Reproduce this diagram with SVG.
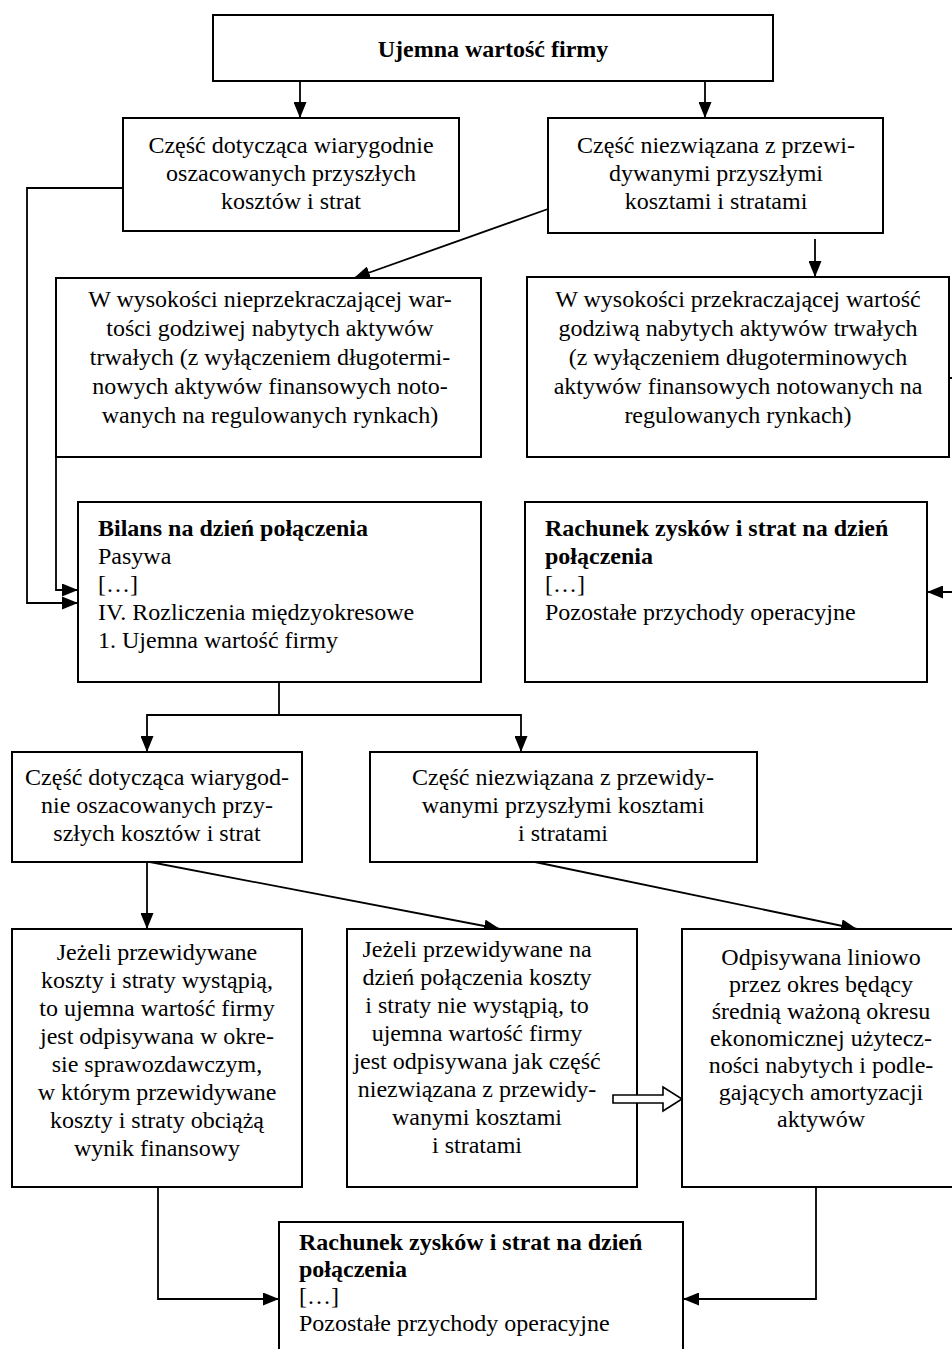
<svg xmlns="http://www.w3.org/2000/svg" width="952" height="1349" viewBox="0 0 952 1349">
<style>
.box{fill:#fff;stroke:#000;stroke-width:2}
.t{font-family:"Liberation Serif","Times New Roman",serif;font-size:24px;fill:#000}
.c{text-anchor:middle}
.b{font-weight:bold}
.ln{fill:none;stroke:#000;stroke-width:1.8}
</style>
<defs>
<marker id="ah" markerUnits="userSpaceOnUse" markerWidth="16" markerHeight="13" refX="16" refY="6.5" orient="auto">
<path d="M0,0 L16,6.5 L0,13 z" fill="#000"/>
</marker>
</defs>
<rect width="952" height="1349" fill="#fff"/>

<g id="connectors">
<line class="ln" x1="300" y1="81" x2="300" y2="118" marker-end="url(#ah)"/>
<line class="ln" x1="705" y1="81" x2="705" y2="118" marker-end="url(#ah)"/>
<polyline class="ln" points="123,188 27,188 27,603 78,603" marker-end="url(#ah)"/>
<polyline class="ln" points="56,457 56,590 78,590" marker-end="url(#ah)"/>
<line class="ln" x1="548" y1="209" x2="354" y2="278" marker-end="url(#ah)"/>
<line class="ln" x1="815" y1="239" x2="815" y2="277" marker-end="url(#ah)"/>
<polyline class="ln" points="949,378 964,378 964,592 927,592" marker-end="url(#ah)"/>
<line class="ln" x1="279" y1="682" x2="279" y2="715"/>
<polyline class="ln" points="279,715 147,715 147,752" marker-end="url(#ah)"/>
<polyline class="ln" points="279,715 521,715 521,752" marker-end="url(#ah)"/>
<line class="ln" x1="147" y1="862" x2="147" y2="929" marker-end="url(#ah)"/>
<line class="ln" x1="150" y1="862" x2="500" y2="929" marker-end="url(#ah)"/>
<line class="ln" x1="535" y1="862" x2="857" y2="929" marker-end="url(#ah)"/>
<polyline class="ln" points="158,1187 158,1299 279,1299" marker-end="url(#ah)"/>
<polyline class="ln" points="816,1187 816,1299 683,1299" marker-end="url(#ah)"/>
</g>

<g id="n-top">
<rect class="box" x="213" y="15" width="560" height="66"/>
<text class="t c b" x="493" y="57">Ujemna wartość firmy</text>
</g>

<g id="n-a1">
<rect class="box" x="123" y="118" width="336" height="113"/>
<text class="t c" x="291" y="153">Część dotycząca wiarygodnie</text>
<text class="t c" x="291" y="181">oszacowanych przyszłych</text>
<text class="t c" x="291" y="209">kosztów i strat</text>
</g>

<g id="n-a2">
<rect class="box" x="548" y="118" width="335" height="115"/>
<text class="t c" x="716" y="153">Część niezwiązana z przewi-</text>
<text class="t c" x="716" y="181">dywanymi przyszłymi</text>
<text class="t c" x="716" y="209">kosztami i stratami</text>
</g>

<g id="n-w1">
<rect class="box" x="56" y="278" width="425" height="179"/>
<text class="t c" x="270" y="307">W wysokości nieprzekraczającej war-</text>
<text class="t c" x="270" y="336">tości godziwej nabytych aktywów</text>
<text class="t c" x="270" y="365">trwałych (z wyłączeniem długotermi-</text>
<text class="t c" x="270" y="394">nowych aktywów finansowych noto-</text>
<text class="t c" x="270" y="423">wanych na regulowanych rynkach)</text>
</g>

<g id="n-w2">
<rect class="box" x="527" y="277" width="422" height="180"/>
<text class="t c" x="738" y="307">W wysokości przekraczającej wartość</text>
<text class="t c" x="738" y="336">godziwą nabytych aktywów trwałych</text>
<text class="t c" x="738" y="365">(z wyłączeniem długoterminowych</text>
<text class="t c" x="738" y="394">aktywów finansowych notowanych na</text>
<text class="t c" x="738" y="423">regulowanych rynkach)</text>
</g>

<g id="n-bilans">
<rect class="box" x="78" y="502" width="403" height="180"/>
<text class="t b" x="98" y="536">Bilans na dzień połączenia</text>
<text class="t" x="98" y="564">Pasywa</text>
<text class="t" x="98" y="592">[…]</text>
<text class="t" x="98" y="620">IV. Rozliczenia międzyokresowe</text>
<text class="t" x="98" y="648">1. Ujemna wartość firmy</text>
</g>

<g id="n-rzis1">
<rect class="box" x="525" y="502" width="402" height="180"/>
<text class="t b" x="545" y="536">Rachunek zysków i strat na dzień</text>
<text class="t b" x="545" y="564">połączenia</text>
<text class="t" x="545" y="592">[…]</text>
<text class="t" x="545" y="620">Pozostałe przychody operacyjne</text>
</g>

<g id="n-b1">
<rect class="box" x="12" y="752" width="290" height="110"/>
<text class="t c" x="157" y="785">Część dotycząca wiarygod-</text>
<text class="t c" x="157" y="813">nie oszacowanych przy-</text>
<text class="t c" x="157" y="841">szłych kosztów i strat</text>
</g>

<g id="n-b2">
<rect class="box" x="370" y="752" width="387" height="110"/>
<text class="t c" x="563" y="785">Część niezwiązana z przewidy-</text>
<text class="t c" x="563" y="813">wanymi przyszłymi kosztami</text>
<text class="t c" x="563" y="841">i stratami</text>
</g>

<g id="n-j1">
<rect class="box" x="12" y="929" width="290" height="258"/>
<text class="t c" x="157" y="960">Jeżeli przewidywane</text>
<text class="t c" x="157" y="988">koszty i straty wystąpią,</text>
<text class="t c" x="157" y="1016">to ujemna wartość firmy</text>
<text class="t c" x="157" y="1044">jest odpisywana w okre-</text>
<text class="t c" x="157" y="1072">sie sprawozdawczym,</text>
<text class="t c" x="157" y="1100">w którym przewidywane</text>
<text class="t c" x="157" y="1128">koszty i straty obciążą</text>
<text class="t c" x="157" y="1156">wynik finansowy</text>
</g>

<g id="n-j2">
<rect class="box" x="347" y="929" width="290" height="258"/>
<text class="t c" x="477" y="957">Jeżeli przewidywane na</text>
<text class="t c" x="477" y="985">dzień połączenia koszty</text>
<text class="t c" x="477" y="1013">i straty nie wystąpią, to</text>
<text class="t c" x="477" y="1041">ujemna wartość firmy</text>
<text class="t c" x="477" y="1069">jest odpisywana jak część</text>
<text class="t c" x="477" y="1097">niezwiązana z przewidy-</text>
<text class="t c" x="477" y="1125">wanymi kosztami</text>
<text class="t c" x="477" y="1153">i stratami</text>
</g>

<g id="n-j3">
<rect class="box" x="682" y="929" width="280" height="258"/>
<text class="t c" x="821" y="965">Odpisywana liniowo</text>
<text class="t c" x="821" y="992">przez okres będący</text>
<text class="t c" x="821" y="1019">średnią ważoną okresu</text>
<text class="t c" x="821" y="1046">ekonomicznej użytecz-</text>
<text class="t c" x="821" y="1073">ności nabytych i podle-</text>
<text class="t c" x="821" y="1100">gających amortyzacji</text>
<text class="t c" x="821" y="1127">aktywów</text>
</g>

<g id="n-hollow-arrow">
<polygon points="613,1095 663,1095 663,1087 682,1099 663,1111 663,1103 613,1103" fill="#fff" stroke="#000" stroke-width="1.6"/>
</g>

<g id="n-rzis2">
<rect class="box" x="279" y="1222" width="404" height="140"/>
<text class="t b" x="299" y="1250">Rachunek zysków i strat na dzień</text>
<text class="t b" x="299" y="1277">połączenia</text>
<text class="t" x="299" y="1304">[…]</text>
<text class="t" x="299" y="1331">Pozostałe przychody operacyjne</text>
</g>
</svg>
